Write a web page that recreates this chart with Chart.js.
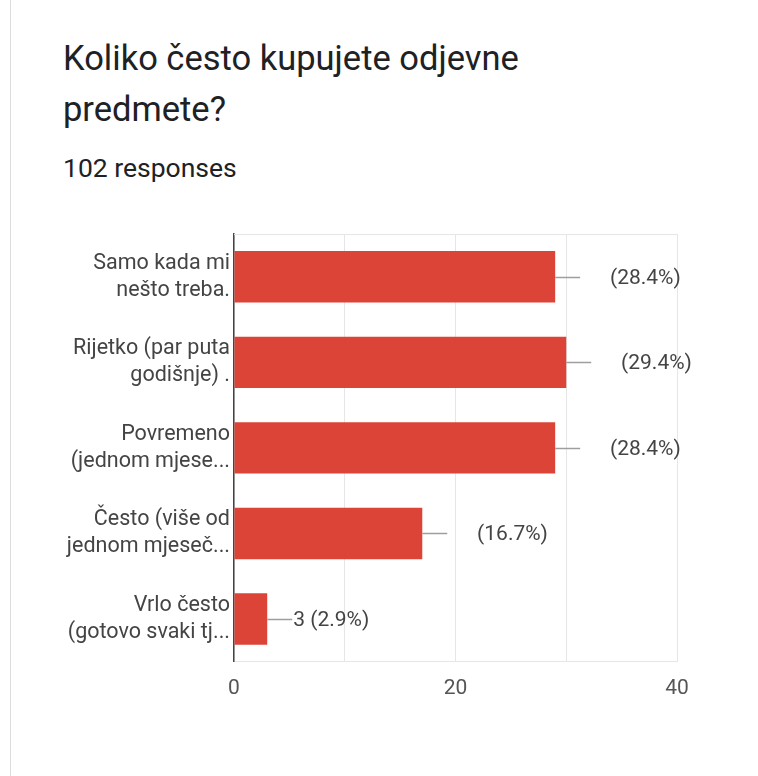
<!DOCTYPE html>
<html>
<head>
<meta charset="utf-8">
<script src="https://cdn.jsdelivr.net/npm/chart.js@4"></script>
<style>
	html, body { margin:0; padding:0; background:#fff; }
	body { width:758px; height:776px; position:relative; overflow:hidden; font-family:Roboto, sans-serif; }
	.edge { position:absolute; left:10px; top:0; width:1px; height:776px; background:#dadce0; }
	.title { position:absolute; left:63px; top:33px; font-size:34.5px; line-height:51px; color:#202124; }
	.sub { position:absolute; left:63px; top:153px; font-size:26.5px; line-height:30px; color:#202124; }
	#chart { position:absolute; left:0; top:200px; }
</style>
</head>
<body>
<div class="edge"></div>
<div class="title">Koliko često kupujete odjevne<br>predmete?</div>
<div class="sub">102 responses</div>
<canvas id="chart" width="758" height="515"></canvas>
<script>
const categories = [
	["Samo kada mi", "nešto treba."],
	["Rijetko (par puta", "godišnje) ."],
	["Povremeno", "(jednom mjese..."],
	["Često (više od", "jednom mjeseč..."],
	["Vrlo često", "(gotovo svaki tj..."]
];
const counts = [29, 30, 29, 17, 3];
const percents = ["28.4", "29.4", "28.4", "16.7", "2.9"];
const countVisible = [false, false, false, false, true];
const xTicks = [0, 20, 40];

Chart.defaults.font.family = "Roboto";

const barLabels = {
	id:"barLabels",
	afterDatasetsDraw(chart){
		const ctx = chart.ctx;
		const meta = chart.getDatasetMeta(0);
		ctx.save();
		// faint top edge of the plot box
		ctx.strokeStyle = "#e6e6e6";
		ctx.lineWidth = 1;
		ctx.beginPath();
		ctx.moveTo(chart.chartArea.left, chart.chartArea.top + 0.5);
		ctx.lineTo(chart.chartArea.right, chart.chartArea.top + 0.5);
		ctx.stroke();

		ctx.font = "21px Roboto";
		ctx.textBaseline = "middle";
		ctx.textAlign = "left";
		meta.data.forEach((bar, i) => {
			const x = bar.x, y = Math.round(bar.y) + 0.5;
			ctx.strokeStyle = "#9e9e9e";
			ctx.lineWidth = 1.5;
			ctx.beginPath();
			ctx.moveTo(x, y);
			ctx.lineTo(x + 25, y);
			ctx.stroke();
			const countTxt = counts[i] + " ";
			let tx = x + 26;
			let txt = "(" + percents[i] + "%)";
			if (countVisible[i]) txt = countTxt + txt;
			else tx += ctx.measureText(countTxt).width;
			ctx.fillStyle = "#444";
			ctx.fillText(txt, tx, y + 1);
		});
		ctx.restore();
	}
};

new Chart(document.getElementById("chart"), {
	type:"bar",
	data:{
		labels:categories,
		datasets:[{
			data:counts,
			backgroundColor:"#db4437",
			borderWidth:0,
			barPercentage:0.6,
			categoryPercentage:1
		}]
	},
	options:{
		indexAxis:"y",
		responsive:false,
		animation:false,
		layout:{padding:{top:34, right:81, left:0, bottom:0}},
		plugins:{legend:{display:false}, tooltip:{enabled:false}},
		scales:{
			x:{
				min:0, max:40,
				ticks:{
					stepSize:10,
					padding:14,
					color:"#555",
					font:{size:21},
					callback:(v) => xTicks.includes(v) ? v : ""
				},
				grid:{color:"#e6e6e6", drawTicks:false},
				border:{color:"#e6e6e6"}
			},
			y:{
				afterFit:(scale) => { scale.width = 234; },
				ticks:{padding:4, color:"#444", font:{size:21.5, lineHeight:1.27}},
				grid:{display:false, drawTicks:false},
				border:{color:"#444", width:1.5}
			}
		}
	},
	plugins:[barLabels]
});
</script>
</body>
</html>
